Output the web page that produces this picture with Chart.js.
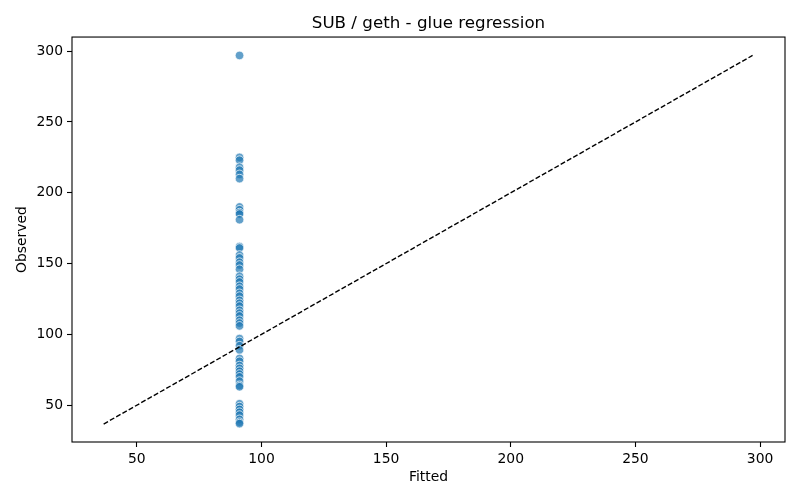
<!DOCTYPE html>
<html>
<head>
<meta charset="utf-8">
<script src="https://cdn.jsdelivr.net/npm/chart.js@4/dist/chart.umd.min.js"></script>
<style>
  body { margin: 0; background: #fff; }
  #wrap { width: 800px; height: 500px; }
</style>
</head>
<body>
<div id="wrap"><canvas id="chart"></canvas></div>
<script>
// values
const observed = [
  297,
  225, 223, 218, 216, 213, 210,
  190, 188, 186, 185, 181,
  162, 161,
  156, 154, 151, 149, 146, 141, 139, 137, 134, 132, 129, 127, 124, 122, 120, 117, 115, 113, 110, 108, 106,
  97, 95, 92, 89, 83, 81, 78, 76, 74, 72, 70, 67, 64, 63,
  51, 49, 47, 45, 43, 40, 38, 37
];
const fitted = [
  91.2,
  91.2, 91.2, 91.2, 91.2, 91.2, 91.2,
  91.2, 91.2, 91.2, 91.2, 91.2,
  91.2, 91.2,
  91.2, 91.2, 91.2, 91.2, 91.2, 91.2, 91.2, 91.2, 91.2, 91.2, 91.2, 91.2, 91.2, 91.2, 91.2, 91.2, 91.2, 91.2, 91.2, 91.2, 91.2,
  91.2, 91.2, 91.2, 91.2, 91.2, 91.2, 91.2, 91.2, 91.2, 91.2, 91.2, 91.2, 91.2, 91.2,
  91.2, 91.2, 91.2, 91.2, 91.2, 91.2, 91.2, 91.2
];
const refLine = [36.7, 297];   // identity line ends
const xTicks = [50, 100, 150, 200, 250, 300];
const yTicks = [50, 100, 150, 200, 250, 300];

const font = "'DejaVu Sans', sans-serif";

// matplotlib draws a full box round the axes
const boxPlugin = {
    id: 'box',
    afterDraw(chart) {
        const {ctx, chartArea} = chart;
        ctx.save();
        ctx.strokeStyle = '#000';
        ctx.lineWidth = 1.1;
        ctx.strokeRect(chartArea.left, chartArea.top, chartArea.right - chartArea.left, chartArea.bottom - chartArea.top);
        ctx.restore();
    }
};

const axisStyle = (ticks) => ({
    type: 'linear',
    grid: { drawOnChartArea: false, color: '#000', tickLength: 5, tickWidth: 1.1 },
    border: { display: false },
    ticks: { color: '#000', padding: 4, font: { family: font, size: 13.9 }, maxRotation: 0 },
    afterBuildTicks: (scale) => { scale.ticks = ticks.map(v => ({ value: v })); }
});

new Chart(document.getElementById('chart'), {
    type: 'scatter',
    data: {
        datasets: [
            {
                label: 'y = x',
                data: refLine.map(v => ({ x: v, y: v })),
                showLine: true,
                borderColor: '#000',
                borderWidth: 1.4,
                borderDash: [5, 2.2],
                pointRadius: 0,
                order: 0
            },
            {
                label: 'observations',
                data: observed.map((y, i) => ({ x: fitted[i], y: y })),
                backgroundColor: 'rgba(31,119,180,0.7)',
                borderColor: 'rgba(255,255,255,0.7)',
                borderWidth: 1,
                pointRadius: 4.3,
                order: 1
            }
        ]
    },
    options: {
        responsive: true,
        maintainAspectRatio: false,
        animation: false,
        layout: { padding: { left: 0, right: 15, top: 0, bottom: 0 } },
        plugins: {
            legend: { display: false },
            tooltip: { enabled: false },
            title: {
                display: true,
                text: 'SUB / geth - glue regression',
                color: '#000',
                fullSize: false,
                font: { family: font, size: 16.7, weight: 'normal' },
                padding: { top: 14, bottom: 3 }
            }
        },
        scales: {
            x: Object.assign(axisStyle(xTicks), {
                min: 24, max: 310,
                title: { display: true, text: 'Fitted', color: '#000', font: { family: font, size: 13.9 }, padding: { top: 4, bottom: 14.6 } },
                afterFit: (scale) => { scale.height = 58; }
            }),
            y: Object.assign(axisStyle(yTicks), {
                min: 24, max: 310,
                title: { display: true, text: 'Observed', color: '#000', font: { family: font, size: 13.9 }, padding: { top: 13.6, bottom: 4 } },
                afterFit: (scale) => { scale.width = 72; }
            })
        }
    },
    plugins: [boxPlugin]
});
</script>
</body>
</html>
